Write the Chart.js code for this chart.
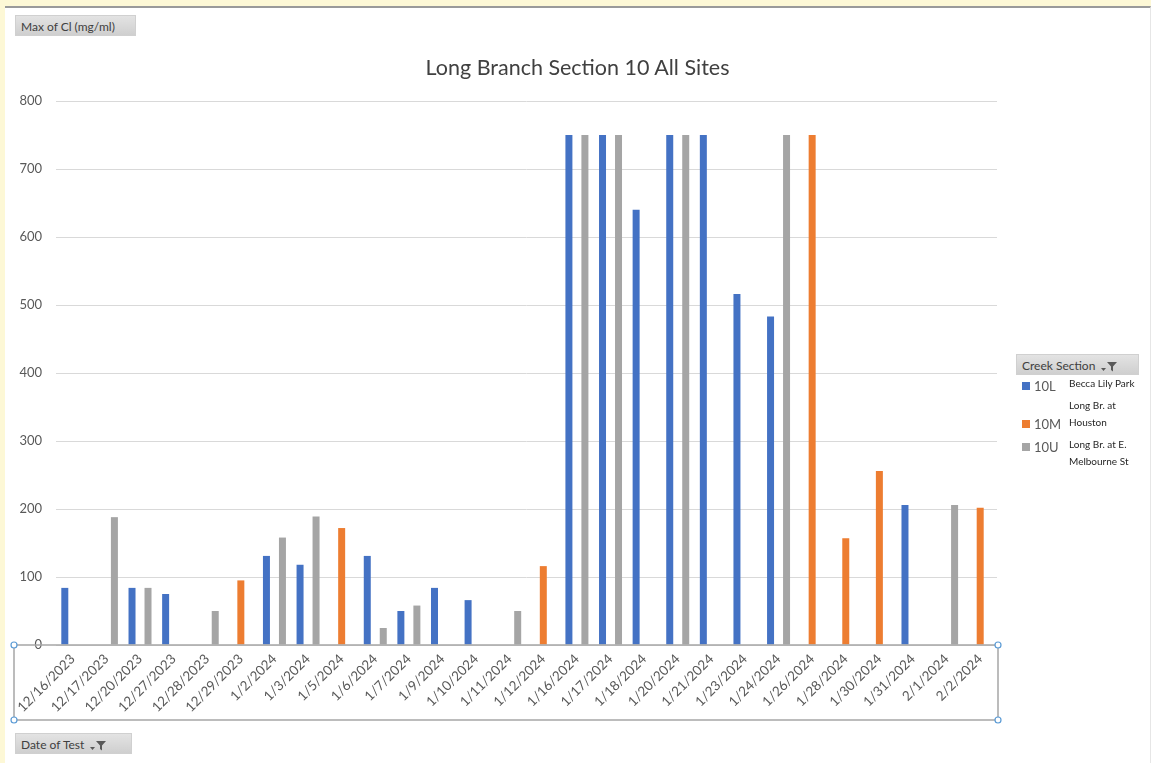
<!DOCTYPE html>
<html lang="en">
<head>
<meta charset="UTF-8">
<title>Long Branch Section 10 All Sites</title>
<style>
  html, body { margin: 0; padding: 0; }
  body { width: 1151px; height: 763px; background: #fdf8d6; position: relative; overflow: hidden; font-family: Lato, "Open Sans", sans-serif; }
  /* white sheet, like the Excel chart frame */
  #sheet { position: absolute; left: 5px; top: 6px; width: 1145px; height: 757px; background: #fff; border-top: 2px solid #9a9a9a; border-right: 1px solid #e6e6e6; }
  #wrap { position: absolute; left: 0; top: 0; width: 1151px; height: 763px; }
  #title { position: absolute; left: 0; width: 1155px; top: 54px; text-align: center; font-size: 21.5px; color: #404040; }
  .btn { position: absolute; height: 21px; line-height: 21px; background: linear-gradient(#e3e3e3, #cfcfcf); color: #404040; font-size: 12px; padding: 0 5px; box-sizing: border-box; border: 1px solid #d0d0d0; white-space: nowrap; }
  .btn svg { vertical-align: middle; margin-left: 3px; }
  .sw { position: absolute; width: 8px; height: 8px; }
  .code { position: absolute; font-size: 13px; line-height: 16px; color: #595959; white-space: nowrap; }
  .desc { position: absolute; font-size: 10px; color: #262626; line-height: 17px; white-space: nowrap; }
</style>
</head>
<body>
<div id="sheet"></div>
<div id="wrap"><canvas id="Chart" width="1151" height="763"></canvas></div>
<div id="title">Long Branch Section 10 All Sites</div>
<div class="btn" style="left:15px; top:15px; width:121px;">Max of Cl (mg/ml)</div>
<div class="btn" style="left:15px; top:733px; width:117px;">Date of Test <span id="f1"></span></div>
<div class="btn" style="left:1016px; top:354px; width:123px;">Creek Section <span id="f2"></span></div>
<div id="legend"></div>

<script src="https://cdn.jsdelivr.net/npm/chart.js"></script>
<script>
  // dates on the x axis
  const dates = ['12/16/2023', '12/17/2023', '12/20/2023', '12/27/2023', '12/28/2023', '12/29/2023',
    '1/2/2024', '1/3/2024', '1/5/2024', '1/6/2024', '1/7/2024', '1/9/2024', '1/10/2024', '1/11/2024',
    '1/12/2024', '1/16/2024', '1/17/2024', '1/18/2024', '1/20/2024', '1/21/2024', '1/23/2024',
    '1/24/2024', '1/26/2024', '1/28/2024', '1/30/2024', '1/31/2024', '2/1/2024', '2/2/2024'];

  // max Cl per site (null = no test that day)
  const site10L = [84, null, 84, 75, null, null, 131, 118, null, 131, 50, 84, 66, null,
    null, 750, 750, 640, 750, 750, 516, 483, null, null, null, 206, null, null];
  const site10M = [null, null, null, null, null, 95, null, null, 172, null, null, null, null, null,
    116, null, null, null, null, null, null, null, 750, 157, 256, null, null, 202];
  const site10U = [null, 188, 84, null, 50, null, 158, 189, null, 25, 58, null, null, 50,
    null, 750, 750, null, 750, null, null, 750, null, null, null, null, 206, null];

  const seriesNames = ['10L', '10M', '10U'];
  const seriesDesc = [['Becca Lily Park'], ['Long Br. at', 'Houston'], ['Long Br. at E.', 'Melbourne St']];
  const colors = ['#4472c4', '#ed7d31', '#a5a5a5'];

  // filter icon for the pivot buttons
  const funnel = '<svg width="16" height="10" viewBox="0 0 16 10"><path d="M0 6h5l-2.5 3z" fill="#595959"/><path d="M6 0h10l-4 4.5v5l-2-1.5v-3.5z" fill="#595959"/></svg>';
  document.getElementById('f1').innerHTML = funnel;
  document.getElementById('f2').innerHTML = funnel;

  // legend (html), centre line of each entry and top of its description
  const rowMid = [386, 424, 447];
  const descTop = [375, 397, 436];
  let html = '';
  for (let i = 0; i < seriesNames.length; i++) {
    html += '<div class="sw" style="left:1022px;top:' + (rowMid[i] - 4) + 'px;background:' + colors[i] + '"></div>' +
      '<div class="code" style="left:1034px;top:' + (rowMid[i] - 8) + 'px">' + seriesNames[i] + '</div>' +
      '<div class="desc" style="left:1069px;top:' + descTop[i] + 'px">' + seriesDesc[i].join('<br>') + '</div>';
  }
  document.getElementById('legend').innerHTML = html;

  // the selection box round the date axis
  const axisBox = {
    id: 'axisBox',
    afterDraw(chart) {
      const ctx = chart.ctx;
      const area = chart.chartArea;
      const x0 = area.left - 42, x1 = area.right + 1, y0 = area.bottom, y1 = area.bottom + 75;
      ctx.save();
      ctx.strokeStyle = '#a6a6a6';
      ctx.lineWidth = 1.5;
      ctx.strokeRect(x0, y0, x1 - x0, y1 - y0);
      ctx.fillStyle = '#fff';
      ctx.strokeStyle = '#5b9bd5';
      ctx.lineWidth = 1.2;
      [[x0, y0], [x1, y0], [x0, y1], [x1, y1]].forEach(function (p) {
        ctx.beginPath();
        ctx.arc(p[0], p[1], 3, 0, Math.PI * 2);
        ctx.fill();
        ctx.stroke();
      });
      ctx.restore();
    }
  };

  const makeSet = function (i, data) {
    return {
      label: seriesNames[i],
      data: data,
      backgroundColor: colors[i],
      categoryPercentage: 0.714,
      barPercentage: 0.875
    };
  };

  new Chart(document.getElementById('Chart').getContext('2d'), {
    type: 'bar',
    data: {
      labels: dates,
      datasets: [makeSet(0, site10L), makeSet(1, site10M), makeSet(2, site10U)]
    },
    options: {
      responsive: false,
      animation: false,
      devicePixelRatio: 1,
      layout: { padding: { left: 0, right: 154, top: 101, bottom: 0 } },
      plugins: {
        legend: { display: false },
        title: { display: false },
        tooltip: { enabled: false }
      },
      scales: {
        x: {
          grid: { display: false, drawTicks: false },
          border: { display: false },
          afterFit: function (s) { s.height = 118; },
          ticks: {
            minRotation: 45, maxRotation: 45, autoSkip: false, padding: 6,
            color: '#595959', font: { family: 'Lato', size: 13.5 }
          }
        },
        y: {
          min: 0, max: 800,
          afterFit: function (s) { s.width = 56; },
          grid: { color: '#d9d9d9', drawTicks: false },
          border: { display: false },
          ticks: { stepSize: 100, padding: 14, color: '#595959', font: { family: 'Lato', size: 13 } }
        }
      }
    },
    plugins: [axisBox]
  });
</script>
</body>
</html>
